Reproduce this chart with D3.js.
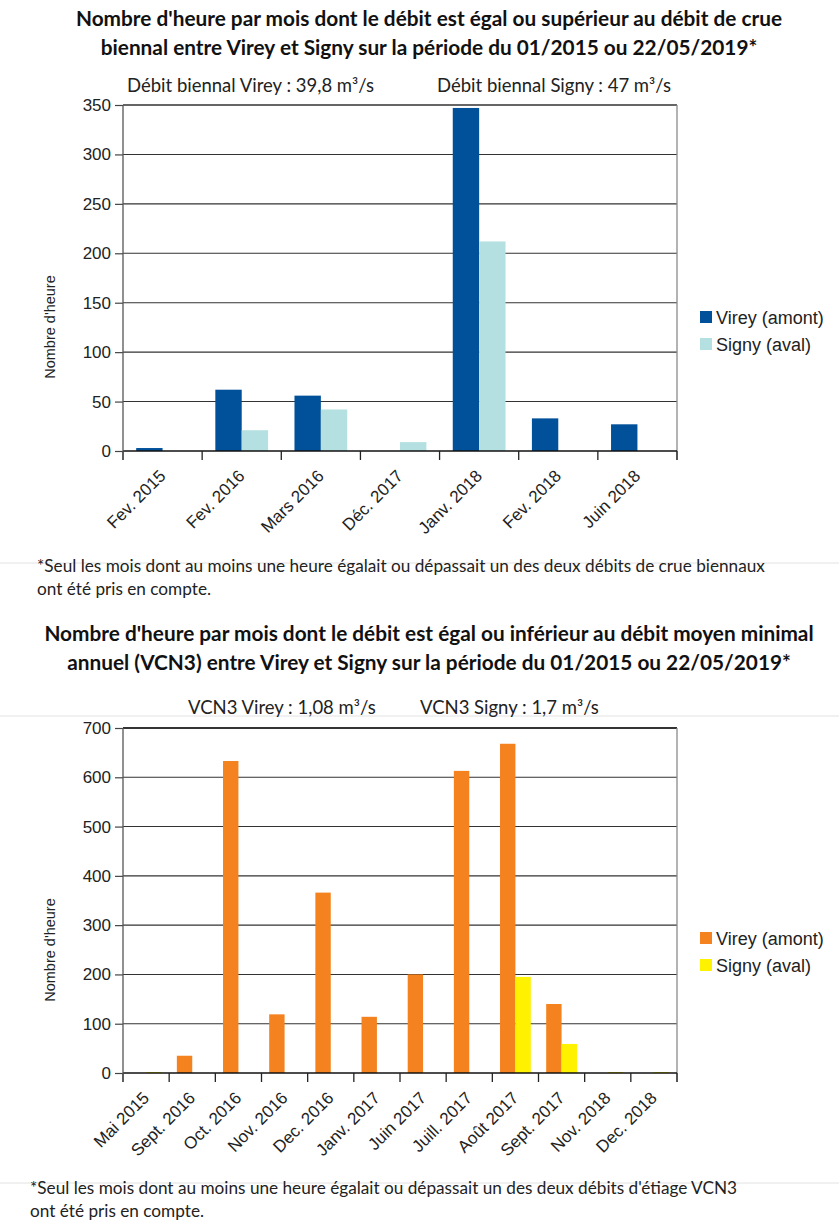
<!DOCTYPE html>
<html>
<head>
<meta charset="utf-8">
<script src="https://cdn.jsdelivr.net/npm/d3@7"></script>
<style>
  body { margin: 0; background: #fff; }
  svg { display: block; }
</style>
</head>
<body>
<div id="chart"></div>
<script>
// Chart 1 : heures au-dessus du débit de crue biennal
const crueMonths = ['Fev. 2015', 'Fev. 2016', 'Mars 2016', 'Déc. 2017', 'Janv. 2018', 'Fev. 2018', 'Juin 2018'];
const crueVirey = [3, 62, 56, 0, 347, 33, 27];
const crueSigny = [0, 21, 42, 9, 212, 0, 0];
const crueTicks = [0, 50, 100, 150, 200, 250, 300, 350];

// Chart 2 : heures sous le VCN3
const etiageMonths = ['Mai 2015', 'Sept. 2016', 'Oct. 2016', 'Nov. 2016', 'Dec. 2016', 'Janv. 2017', 'Juin 2017',
    'Juill. 2017', 'Août 2017', 'Sept. 2017', 'Nov. 2018', 'Dec. 2018'];
const etiageVirey = [0, 35, 633, 119, 366, 114, 200, 613, 668, 140, 0, 0];
const etiageSigny = [2, 0, 0, 0, 0, 0, 0, 0, 195, 59, 2, 2];
const etiageTicks = [0, 100, 200, 300, 400, 500, 600, 700];

const seriesNames = ['Virey (amont)', 'Signy (aval)'];

const textFont = 'Lato, "Open Sans", sans-serif';
const axisFont = '"Liberation Sans", Arial, sans-serif';

const svg = d3.select('#chart')
    .append('svg')
    .attr('width', 839)
    .attr('height', 1220);

// faint separator lines from the original page
[563, 716, 1183].forEach(y => {
    svg.append('line')
        .attr('x1', 0).attr('x2', 839)
        .attr('y1', y).attr('y2', y)
        .attr('stroke', '#e2e2e2')
        .attr('stroke-width', 1);
});

function addTitle(lines, y0) {
    lines.forEach((t, i) => {
        svg.append('text')
            .attr('x', 429)
            .attr('y', y0 + i * 28.5)
            .attr('text-anchor', 'middle')
            .style('font-family', textFont)
            .style('font-weight', 'bold')
            .style('font-size', '20.8px')
            .style('fill', '#111')
            .text(t);
    });
}

function addTextLines(lines, x, y0, size) {
    lines.forEach((t, i) => {
        svg.append('text')
            .attr('x', x)
            .attr('y', y0 + i * 23)
            .style('font-family', textFont)
            .style('font-size', size + 'px')
            .style('fill', '#222')
            .text(t);
    });
}

function drawBars(cfg) {
    const g = svg.append('g');

    const x0 = d3.scaleBand()
        .domain(cfg.months)
        .range([cfg.left, cfg.right]);

    const bw = x0.bandwidth();
    const x1 = d3.scaleBand()
        .domain(seriesNames)
        .range([bw / 6, bw * 5 / 6]);

    const y = d3.scaleLinear()
        .domain([0, d3.max(cfg.ticks)])
        .range([cfg.bottom, cfg.top]);

    // gridlines
    g.selectAll('.grid')
        .data(cfg.ticks.filter(d => d > 0))
        .enter()
        .append('line')
        .attr('x1', cfg.left)
        .attr('x2', cfg.right)
        .attr('y1', d => y(d))
        .attr('y2', d => y(d))
        .attr('stroke', '#333')
        .attr('stroke-width', (d, i, n) => i === n.length - 1 ? cfg.topStroke : 1.1);

    // right frame
    g.append('line')
        .attr('x1', cfg.right).attr('x2', cfg.right)
        .attr('y1', cfg.top).attr('y2', cfg.bottom + 9)
        .attr('stroke', '#8a8a8a')
        .attr('stroke-width', 1.3);

    // bars
    const rows = cfg.months.map((m, i) => ({
        month: m,
        values: [cfg.virey[i], cfg.signy[i]]
    }));

    const groups = g.selectAll('.grp')
        .data(rows)
        .enter()
        .append('g')
        .attr('transform', d => `translate(${x0(d.month)},0)`);

    groups.selectAll('rect')
        .data(d => d.values.map((v, k) => ({ name: seriesNames[k], value: v })))
        .enter()
        .append('rect')
        .filter(d => d.value > 0)
        .attr('x', d => x1(d.name))
        .attr('width', x1.bandwidth())
        .attr('y', d => y(d.value))
        .attr('height', d => cfg.bottom - y(d.value))
        .attr('fill', d => cfg.colors[seriesNames.indexOf(d.name)]);

    // zero line
    g.append('line')
        .attr('x1', cfg.left).attr('x2', cfg.right)
        .attr('y1', cfg.bottom).attr('y2', cfg.bottom)
        .attr('stroke', '#111')
        .attr('stroke-width', 1.6);

    // category ticks
    const bounds = cfg.months.map(m => x0(m)).concat([cfg.right]);
    g.selectAll('.xtick')
        .data(bounds)
        .enter()
        .append('line')
        .attr('x1', d => d).attr('x2', d => d)
        .attr('y1', cfg.bottom).attr('y2', cfg.bottom + 9)
        .attr('stroke', '#222')
        .attr('stroke-width', 1.3);

    // category labels
    g.selectAll('.xlabel')
        .data(cfg.months)
        .enter()
        .append('text')
        .attr('transform', d => `translate(${x0(d) + bw / 2 + 4},${cfg.bottom + 26}) rotate(-45)`)
        .attr('text-anchor', 'end')
        .style('font-family', axisFont)
        .style('font-size', '17px')
        .style('fill', '#222')
        .text(d => d);

    // y axis
    const yAxis = g.append('g')
        .attr('transform', `translate(${cfg.left},0)`)
        .call(d3.axisLeft(y).tickValues(cfg.ticks).tickSize(8).tickPadding(4));
    yAxis.select('.domain').remove();
    yAxis.selectAll('.tick line').attr('stroke', '#444').attr('stroke-width', 1.2);
    yAxis.selectAll('.tick text')
        .style('font-family', axisFont)
        .style('font-size', '17px')
        .style('fill', '#222');
    g.append('line')
        .attr('x1', cfg.left).attr('x2', cfg.left)
        .attr('y1', cfg.top).attr('y2', cfg.bottom + 9)
        .attr('stroke', '#555')
        .attr('stroke-width', 1.3);

    // y title
    g.append('text')
        .attr('transform', `translate(55,${cfg.yTitle}) rotate(-90)`)
        .attr('text-anchor', 'middle')
        .style('font-family', axisFont)
        .style('font-size', '14.5px')
        .style('fill', '#222')
        .text("Nombre d'heure");

    // legend
    const legend = g.append('g')
        .attr('transform', `translate(700,${cfg.legendY})`);
    seriesNames.forEach((name, i) => {
        legend.append('rect')
            .attr('x', 0)
            .attr('y', i * 27)
            .attr('width', 12)
            .attr('height', 12)
            .attr('fill', cfg.colors[i]);
        legend.append('text')
            .attr('x', 16)
            .attr('y', i * 27 + 12.5)
            .style('font-family', axisFont)
            .style('font-size', '18px')
            .style('fill', '#222')
            .text(name);
    });
}

// ---- Chart 1
addTitle([
    "Nombre d'heure par mois dont le débit est égal ou supérieur au débit de crue",
    'biennal entre Virey et Signy sur la période du 01/2015 ou 22/05/2019*'
], 26);
addTextLines(['Débit biennal Virey : 39,8 m³/s'], 127, 92, 18.5);
addTextLines(['Débit biennal Signy : 47 m³/s'], 437, 92, 18.5);

drawBars({
    months: crueMonths,
    virey: crueVirey,
    signy: crueSigny,
    ticks: crueTicks,
    left: 123, right: 677,
    top: 105, bottom: 451,
    topStroke: 1.3,
    colors: ['#00509a', '#b5e0e1'],
    yTitle: 327,
    legendY: 311
});

addTextLines([
    '*Seul les mois dont au moins une heure égalait ou dépassait un des deux débits de crue biennaux',
    'ont été pris en compte.'
], 37, 572, 17.2);

// ---- Chart 2
addTitle([
    "Nombre d'heure par mois dont le débit est égal ou inférieur au débit moyen minimal",
    'annuel (VCN3) entre Virey et Signy sur la période du 01/2015 ou 22/05/2019*'
], 641);
addTextLines(['VCN3 Virey : 1,08 m³/s'], 188, 714, 18.5);
addTextLines(['VCN3 Signy : 1,7 m³/s'], 420, 714, 18.5);

drawBars({
    months: etiageMonths,
    virey: etiageVirey,
    signy: etiageSigny,
    ticks: etiageTicks,
    left: 123, right: 677,
    top: 728, bottom: 1073,
    topStroke: 2.2,
    colors: ['#f4821f', '#fff200'],
    yTitle: 950,
    legendY: 932
});

addTextLines([
    "*Seul les mois dont au moins une heure égalait ou dépassait un des deux débits d'étiage VCN3",
    'ont été pris en compte.'
], 30, 1194, 17.2);
</script>
</body>
</html>
